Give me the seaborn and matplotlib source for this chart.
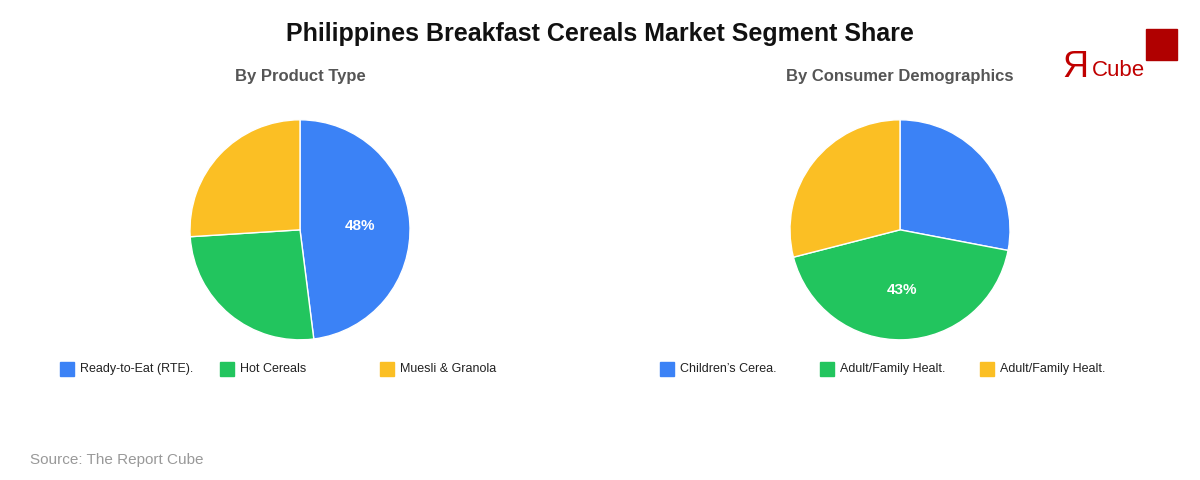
import matplotlib
matplotlib.use("Agg")
import matplotlib.pyplot as plt
import seaborn as sns
from matplotlib.patches import Rectangle

sns.set_theme(style="white")
plt.rcParams['font.family'] = ['Liberation Sans', 'DejaVu Sans']

colors = ["#3B82F6", "#22C55E", "#FBBF24"]

product_labels = ["Ready-to-Eat (RTE).", "Hot Cereals", "Muesli & Granola"]
product_share = [48, 26, 26]

demo_labels = ["Children\u2019s Cerea.", "Adult/Family Healt.", "Adult/Family Healt."]
demo_share = [28, 43, 29]

fig = plt.figure(figsize=(12, 4.8), dpi=100)
fig.text(0.5, 0.93, "Philippines Breakfast Cereals Market Segment Share",
         ha="center", va="center", fontsize=18, fontweight="bold", color="#111111")


def draw_pie(cx, subtitle, labels, values, legend_x):
    ax = fig.add_axes([cx - 0.0917, 0.292, 0.1834, 0.4584])
    ax.pie(
        values, colors=colors, startangle=90, counterclock=False,
        autopct=lambda p: f"{p:.0f}%" if p > 40 else "", pctdistance=0.55,
        wedgeprops=dict(edgecolor="white", linewidth=1),
        textprops=dict(color="white", fontsize=11, fontweight="bold"))
    ax.set_xlim(-1, 1)
    ax.set_ylim(-1, 1)
    ax.set_aspect("equal")
    ax.axis("off")
    fig.text(cx, 0.84, subtitle, ha="center", va="center",
             fontsize=12, fontweight="bold", color="#555555")
    for i, lab in enumerate(labels):
        x = legend_x + i * 0.1333
        fig.add_artist(Rectangle((x, 0.217), 0.0117, 0.029,
                                 transform=fig.transFigure, color=colors[i]))
        fig.text(x + 0.0167, 0.231, lab, ha="left", va="center",
                 fontsize=9, color="#222222")


draw_pie(0.25, "By Product Type", product_labels, product_share, 0.05)
draw_pie(0.75, "By Consumer Demographics", demo_labels, demo_share, 0.55)

fig.text(0.025, 0.042, "Source: The Report Cube", ha="left", va="center",
         fontsize=11, color="#999999")

# logo
fig.text(0.885, 0.86, "Я", ha="left", va="center", fontsize=26, color="#C00000")
fig.text(0.91, 0.853, "Cube", ha="left", va="center", fontsize=16, color="#C00000")
fig.add_artist(Rectangle((0.955, 0.875), 0.026, 0.065, transform=fig.transFigure,
                         color="#B00000"))

fig.savefig("out.png", dpi=100)
